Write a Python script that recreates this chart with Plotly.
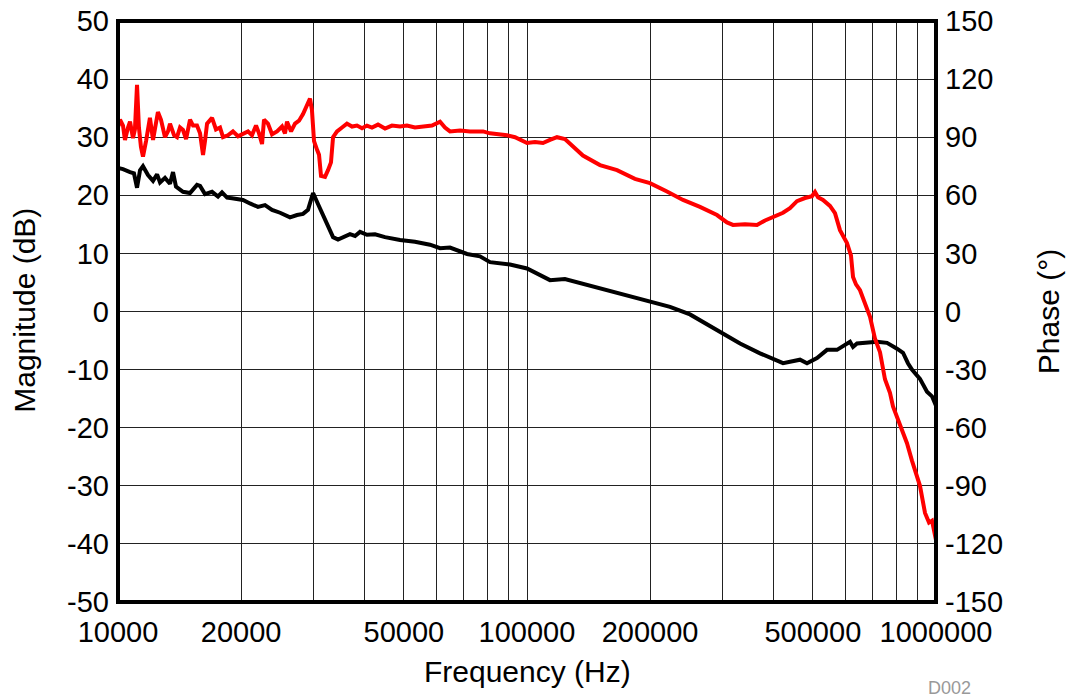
import plotly.graph_objects as go

# Loop gain magnitude (dB) vs frequency (Hz)
mag_freq = [10000, 10285, 10700, 10940, 11130, 11320, 11510, 11840, 12180, 12460,
            12670, 13030, 13400, 13630, 13860, 14420, 15000, 15600, 15870, 16320,
            16980, 17560, 17960, 18480, 19000, 20210, 21020, 21990, 22880, 23800,
            24900, 26340, 27400, 28340, 29140, 29990, 30830, 31710, 32620, 33560,
            34510, 35890, 36910, 37980, 39060, 40620, 42500, 44960, 48920, 53220,
            57910, 61290, 64820, 71350, 76740, 81200, 90880, 100000, 107600, 113800,
            123800, 137000, 150800, 168800, 199800, 223700, 250300, 291400, 331800, 371300,
            422600, 465100, 483700, 511700, 541400, 572700, 616300, 626800, 641000, 717400,
            759000, 802900, 830500, 853900, 873400, 913700, 950600, 977700, 1000000]
mag_db = [24.7, 24.5, 24.0, 23.8, 21.3, 24.3, 25.0, 23.5, 22.5, 23.6,
          22.2, 23.0, 22.0, 24.0, 21.5, 20.6, 20.4, 21.8, 21.6, 20.2,
          20.6, 19.8, 20.5, 19.6, 19.5, 19.2, 18.6, 18.0, 18.3, 17.5,
          17.0, 16.2, 16.6, 16.8, 17.5, 20.4, 18.5, 16.5, 14.5, 12.8,
          12.4, 13.0, 13.3, 13.0, 13.7, 13.2, 13.3, 12.8, 12.3, 12.0,
          11.5, 10.9, 11.0, 9.9, 9.5, 8.5, 8.1, 7.4, 6.3, 5.4,
          5.6, 4.8, 4.0, 3.2, 1.8, 0.8, -0.5, -3.3, -5.5, -7.2,
          -8.9, -8.3, -8.9, -8.0, -6.6, -6.6, -5.2, -6.1, -5.5, -5.2,
          -5.4, -6.4, -7.1, -8.9, -10.0, -11.6, -13.8, -14.6, -16.2]

# Loop gain phase (degrees) vs frequency (Hz)
ph_freq = [10000, 10113, 10285, 10400, 10580, 10700, 10880, 11000, 11130, 11250,
           11380, 11510, 11710, 11970, 12180, 12380, 12520, 12740, 13030, 13250,
           13400, 13710, 13940, 14180, 14420, 14670, 15000, 15260, 15600, 15870,
           16140, 16320, 16510, 16980, 17360, 17760, 18060, 18570, 19100, 19650,
           20210, 20790, 21260, 21750, 22120, 22500, 22750, 23260, 23800, 24480,
           25180, 25600, 25900, 26490, 27090, 27710, 28340, 28990, 29470, 29800,
           30150, 30670, 31010, 31360, 32070, 32620, 33170, 33560, 34320, 35300,
           36290, 37340, 38400, 39500, 40620, 41780, 43220, 44960, 46750, 48920,
           50870, 53220, 56320, 58580, 61290, 63020, 64820, 68600, 72550, 78080,
           81200, 85910, 89360, 93480, 100000, 104600, 109400, 113800, 118400, 123800,
           129600, 137000, 150800, 166000, 183600, 199800, 219900, 240700, 264800, 291400,
           308300, 318900, 341200, 365000, 381900, 399500, 422600, 439500, 457200, 478300,
           497600, 506000, 514600, 529300, 550500, 566300, 582400, 605800, 619600, 626800,
           637400, 652000, 674400, 689700, 709300, 729600, 750300, 771700, 785000, 807400,
           830500, 849300, 873400, 898500, 913700, 940000, 961400, 977700, 988800, 1000000]
ph_deg = [95, 99, 96, 88.6, 95, 98, 89.5, 94, 117, 95,
          85, 80, 88, 100, 88.6, 96, 103, 99, 90, 93,
          97, 91, 90, 95, 93.7, 89, 99, 96, 96, 92,
          80.8, 88, 97, 100, 94, 95, 90, 91, 93, 90.5,
          92, 93, 91, 96, 92, 86.5, 99, 97, 91.5, 93,
          95.5, 92, 98, 93, 97, 98.5, 102, 106, 110, 104,
          88, 83.5, 81, 70, 69.5, 73, 77, 90, 93, 95,
          97, 95.5, 96, 94.6, 96, 95, 96.5, 94.5, 96, 95.5,
          96, 95, 95.5, 96, 98, 95, 93, 93.5, 93, 93,
          92, 91.5, 91, 90, 87, 87.5, 87, 88.6, 90, 89,
          85, 80.5, 75.6, 73, 68.5, 66.3, 62, 57.6, 54, 49.8,
          46, 44.7, 45, 44.7, 47, 48.8, 51, 53.4, 57, 58.6,
          59.5, 61.7, 59, 57.6, 54.5, 50.8, 42, 35.4, 29, 17.8,
          14, 11, 3, -2.8, -14, -21, -35, -42, -49, -56,
          -63, -68, -77, -85, -90, -104, -109, -108, -113, -118]

# Axis ticks
decades = [10000, 100000, 1000000]
x_grid = sorted({m * d for d in decades for m in range(1, 10) if m * d <= 1000000})
x_labels = {10000: "10000", 20000: "20000", 50000: "50000", 100000: "100000",
            200000: "200000", 500000: "500000", 1000000: "1000000"}
mag_ticks = list(range(-50, 51, 10))
ph_ticks = list(range(-150, 151, 30))

FONT = "Liberation Sans, Arial, sans-serif"
TICK_SIZE = 29
TITLE_SIZE = 30

fig = go.Figure()
fig.add_trace(go.Scatter(x=mag_freq, y=mag_db, mode="lines",
                         line=dict(color="#000000", width=4), yaxis="y"))
fig.add_trace(go.Scatter(x=ph_freq, y=ph_deg, mode="lines",
                         line=dict(color="#ff0000", width=4), yaxis="y2"))

fig.update_layout(
    width=1070, height=700,
    margin=dict(l=118, r=134, t=21, b=98, autoexpand=False),
    paper_bgcolor="white", plot_bgcolor="white",
    showlegend=False,
    font=dict(family=FONT, size=TITLE_SIZE, color="#000000"),
    xaxis=dict(type="log", range=[4, 6], tickvals=x_grid,
               ticktext=[x_labels.get(v, "") for v in x_grid],
               showgrid=True, gridcolor="#222222", gridwidth=1,
               zeroline=False, ticks="", ticklabelstandoff=10, automargin=False,
               tickfont=dict(size=TICK_SIZE)),
    yaxis=dict(range=[-50, 50], tickvals=mag_ticks,
               ticktext=[str(v) for v in mag_ticks],
               showgrid=True, gridcolor="#222222", gridwidth=1,
               zeroline=False, ticks="", ticklabelstandoff=8, automargin=False,
               tickfont=dict(size=TICK_SIZE)),
    yaxis2=dict(range=[-150, 150], tickvals=ph_ticks,
                ticktext=[str(v) for v in ph_ticks],
                overlaying="y", side="right", automargin=False,
                showgrid=False, zeroline=False, ticks="", ticklabelstandoff=8,
                tickfont=dict(size=TICK_SIZE)),
    shapes=[dict(type="rect", xref="paper", yref="paper", x0=0, x1=1, y0=0, y1=1,
                 line=dict(color="#000000", width=4), layer="above")],
    annotations=[
        dict(text="Frequency (Hz)", xref="paper", yref="paper", x=0.5, y=-0.119,
             showarrow=False, font=dict(size=TITLE_SIZE), xanchor="center", yanchor="middle"),
        dict(text="Magnitude (dB)", xref="paper", yref="paper", x=-0.1137, y=0.503,
             showarrow=False, textangle=-90, font=dict(size=TITLE_SIZE),
             xanchor="center", yanchor="middle"),
        dict(text="Phase (°)", xref="paper", yref="paper", x=1.137, y=0.499,
             showarrow=False, textangle=-90, font=dict(size=TITLE_SIZE),
             xanchor="center", yanchor="middle"),
        dict(text="D002", xref="paper", yref="paper", x=1.017, y=-0.148,
             showarrow=False, font=dict(size=18, color="#999999"),
             xanchor="center", yanchor="middle"),
    ],
)

fig.write_html("out.html")
